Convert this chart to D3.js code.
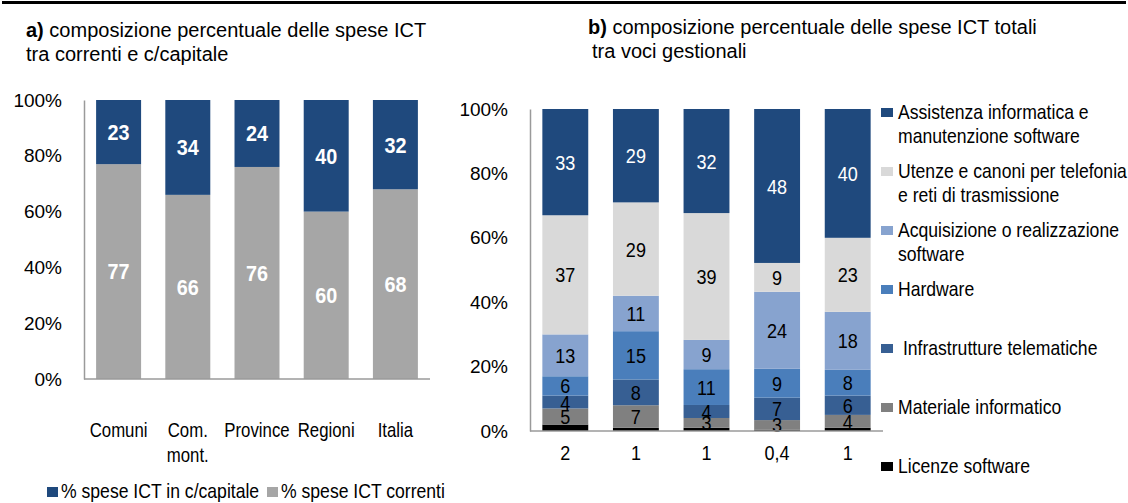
<!DOCTYPE html>
<html>
<head>
<meta charset="utf-8">
<script src="https://cdn.jsdelivr.net/npm/d3@7"></script>
<style>
  body { margin: 0; background: #fff; }
  svg { display: block; }
  text { font-family: "Liberation Sans", Arial, sans-serif; fill: #000; }
</style>
</head>
<body>
<svg id="chart"></svg>
<script>
const width = 1128;
const height = 503;

// a) spese correnti / c/capitale
const leftCats = ["Comuni", "Com.|mont.", "Province", "Regioni", "Italia"];
const capitale = [23, 34, 24, 40, 32];
const correnti = [77, 66, 76, 60, 68];

// b) voci gestionali (stack from bottom to top)
const barIds = ["c1", "c2", "c3", "c4", "c5"];
const licenze = [2, 1, 1, 0.4, 1];
const materiale = [5, 7, 3, 3, 4];
const infrastrutture = [4, 8, 4, 7, 6];
const hardware = [6, 15, 11, 9, 8];
const acquisizione = [13, 11, 9, 24, 18];
const utenze = [37, 29, 39, 9, 23];
const assistenza = [33, 29, 32, 48, 40];

const voci = ["licenze", "materiale", "infrastrutture", "hardware", "acquisizione", "utenze", "assistenza"];
const vociLabels = {
  assistenza: ["Assistenza informatica e", "manutenzione software"],
  utenze: ["Utenze e canoni per telefonia", "e reti di trasmissione"],
  acquisizione: ["Acquisizione o realizzazione", "software"],
  hardware: ["Hardware"],
  infrastrutture: [" Infrastrutture telematiche"],
  materiale: ["Materiale informatico"],
  licenze: ["Licenze software"]
};
const vociColors = {
  licenze: "#000000",
  materiale: "#808080",
  infrastrutture: "#375f93",
  hardware: "#4a7ebb",
  acquisizione: "#87a3cf",
  utenze: "#d9d9d9",
  assistenza: "#1f497d"
};
const yTicks = [0, 20, 40, 60, 80, 100];

const svg = d3.select("svg#chart")
  .attr("width", width)
  .attr("height", height);

const axisColor = "#9a9a9a";

// the source font is a condensed one; squeeze text horizontally round its anchor
function squash(sel, k) {
  sel.each(function() {
    let t = d3.select(this);
    let x = +t.attr("x") || 0;
    t.attr("transform", "translate(" + x + ",0) scale(" + k + ",1) translate(" + (-x) + ",0)");
  });
}

// top rule
svg.append("line")
  .attr("x1", 2).attr("x2", width - 2)
  .attr("y1", 2.5).attr("y2", 2.5)
  .attr("stroke", "#000").attr("stroke-width", 3);

// titles
function title(x, y, bold, first, second, indent) {
  let t = svg.append("text").attr("x", x).attr("y", y).style("font-size", "20px");
  t.append("tspan").style("font-weight", "bold").text(bold);
  t.append("tspan").text(first);
  svg.append("text").attr("x", x + indent).attr("y", y + 24)
    .style("font-size", "20px").text(second);
}
title(26, 37, "a)", " composizione percentuale delle spese ICT", "tra correnti e c/capitale", 0);
title(588, 34, "b)", "  composizione percentuale delle spese ICT totali", "tra voci gestionali", 4);

// ---------- chart a ----------
const xa = d3.scaleBand()
  .domain(leftCats)
  .range([84, 430])
  .paddingInner(0.35)
  .paddingOuter(0.175);
const ya = d3.scaleLinear().domain([0, 100]).range([379, 100]);

const leftData = leftCats.map((c, i) => ({ cat: c, capitale: capitale[i], correnti: correnti[i] }));
const stackA = d3.stack().keys(["correnti", "capitale"])(leftData);
const colorsA = { correnti: "#a6a6a6", capitale: "#1f497d" };

const gA = svg.append("g");
gA.selectAll("g.layer")
  .data(stackA)
  .join("g")
  .attr("fill", d => colorsA[d.key])
  .selectAll("rect")
  .data(d => d)
  .join("rect")
  .attr("x", d => xa(d.data.cat))
  .attr("width", xa.bandwidth())
  .attr("y", d => ya(d[1]))
  .attr("height", d => ya(d[0]) - ya(d[1]));

let valsA = gA.selectAll("g.lab")
  .data(stackA)
  .join("g")
  .selectAll("text")
  .data(d => d)
  .join("text")
  .attr("x", d => xa(d.data.cat) + xa.bandwidth() / 2)
  .attr("y", d => (ya(d[0]) + ya(d[1])) / 2)
  .attr("dy", "0.36em")
  .attr("text-anchor", "middle")
  .style("font-size", "22px")
  .style("font-weight", "bold")
  .style("fill", "#fff")
  .text(d => d[1] - d[0]);
squash(valsA, 0.9);

const axA = svg.append("g")
  .attr("transform", "translate(84,0)")
  .call(d3.axisLeft(ya).tickValues(yTicks).tickFormat(d => d + "%").tickSize(0).tickPadding(22));
axA.select(".domain").attr("stroke", axisColor).attr("stroke-width", 1.5);
axA.selectAll("text").style("font-size", "19px").style("font-family", null);

svg.append("line")
  .attr("x1", 84).attr("x2", 430)
  .attr("y1", ya(0)).attr("y2", ya(0))
  .attr("stroke", axisColor).attr("stroke-width", 1.5);

let catsA = gA.selectAll("text.cat")
  .data(leftCats)
  .join("text")
  .attr("class", "cat")
  .attr("x", d => xa(d) + xa.bandwidth() / 2)
  .attr("y", 437)
  .attr("text-anchor", "middle")
  .style("font-size", "20px");
catsA.selectAll("tspan")
  .data(d => d.split("|").map(s => ({ s, x: xa(d) + xa.bandwidth() / 2 })))
  .join("tspan")
  .attr("x", d => d.x)
  .attr("dy", (d, i) => i ? 25 : 0)
  .text(d => d.s);
squash(catsA, 0.84);

// legend a
const legA = [["capitale", "% spese ICT in c/capitale", 47], ["correnti", "% spese ICT correnti", 267]];
legA.forEach(([k, label, x]) => {
  svg.append("rect").attr("x", x).attr("y", 487).attr("width", 11).attr("height", 10).attr("fill", colorsA[k]);
  let t = svg.append("text").attr("x", x + 14).attr("y", 498).style("font-size", "20px").text(label);
  squash(t, 0.88);
});

// ---------- chart b ----------
const seriesB = { licenze, materiale, infrastrutture, hardware, acquisizione, utenze, assistenza };
const rightData = barIds.map((id, i) => {
  let row = { id };
  voci.forEach(v => row[v] = seriesB[v][i]);
  return row;
});
const stackB = d3.stack().keys(voci).offset(d3.stackOffsetExpand)(rightData);

const xb = d3.scaleBand()
  .domain(barIds)
  .range([530, 883])
  .paddingInner(0.35)
  .paddingOuter(0.175);
const yb = d3.scaleLinear().domain([0, 1]).range([431, 109]);

const gB = svg.append("g");
gB.selectAll("g.layer")
  .data(stackB)
  .join("g")
  .attr("fill", d => vociColors[d.key])
  .selectAll("rect")
  .data(d => d)
  .join("rect")
  .attr("x", d => xb(d.data.id))
  .attr("width", xb.bandwidth())
  .attr("y", d => yb(d[1]))
  .attr("height", d => yb(d[0]) - yb(d[1]));

let valsB = gB.selectAll("g.lab")
  .data(stackB.filter(s => s.key !== "licenze"))
  .join("g")
  .style("fill", d => d.key === "assistenza" ? "#fff" : "#000")
  .selectAll("text")
  .data(d => d.map(p => ({ p, key: d.key })))
  .join("text")
  .attr("x", d => xb(d.p.data.id) + xb.bandwidth() / 2)
  .attr("y", d => (yb(d.p[0]) + yb(d.p[1])) / 2)
  .attr("dy", "0.36em")
  .attr("text-anchor", "middle")
  .style("font-size", "21px")
  .style("fill", "inherit")
  .text(d => d.p.data[d.key]);
squash(valsB, 0.86);

const axB = svg.append("g")
  .attr("transform", "translate(530,0)")
  .call(d3.axisLeft(yb).tickValues(yTicks.map(v => v / 100)).tickFormat(d3.format(".0%")).tickSize(0).tickPadding(22));
axB.select(".domain").attr("stroke", axisColor).attr("stroke-width", 1.5);
axB.selectAll("text").style("font-size", "19px").style("font-family", null);

svg.append("line")
  .attr("x1", 530).attr("x2", 883)
  .attr("y1", yb(0)).attr("y2", yb(0))
  .attr("stroke", axisColor).attr("stroke-width", 1.5);

// licenze values shown under the axis
const it = d3.formatLocale({ decimal: ",", thousands: ".", grouping: [3], currency: ["€", ""] });
const fmt = it.format("~g");
let lic = gB.selectAll("text.lic")
  .data(rightData)
  .join("text")
  .attr("class", "lic")
  .attr("x", d => xb(d.id) + xb.bandwidth() / 2)
  .attr("y", 460)
  .attr("text-anchor", "middle")
  .style("font-size", "20px")
  .text(d => fmt(d.licenze));
squash(lic, 0.9);

// legend b
const legOrder = voci.slice().reverse();
const legB = svg.append("g").attr("transform", "translate(881,0)");
legOrder.forEach((k, i) => {
  const base = 119 + i * 59;
  legB.append("rect").attr("x", 0).attr("y", base - 11).attr("width", 12).attr("height", 9).attr("fill", vociColors[k]);
  vociLabels[k].forEach((line, j) => {
    let t = legB.append("text").attr("x", 17).attr("y", base + j * 24)
      .style("font-size", "20px").style("white-space", "pre").text(line);
    squash(t, 0.88);
  });
});
</script>
</body>
</html>
